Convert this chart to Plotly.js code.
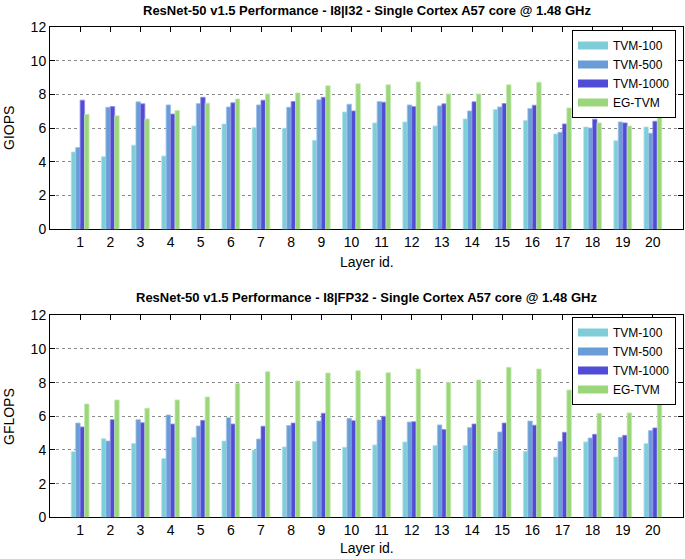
<!DOCTYPE html>
<html>
<head>
<meta charset="utf-8">
<script src="https://cdn.plot.ly/plotly-3.0.1.min.js"></script>
<style>html,body{margin:0;padding:0;background:#fff}#chart{width:685px;height:559px}</style>
</head>
<body>
<div id="chart"></div>
<script>
const layers = [1,2,3,4,5,6,7,8,9,10,11,12,13,14,15,16,17,18,19,20];
const seriesNames = ["TVM-100","TVM-500","TVM-1000","EG-TVM"];
const seriesColors = ["#7ecdd9","#699dd8","#504cd6","#9bd67a"];
const seriesBorders = ["#b4e3ea","#9fc2e8","#8f8ce6","#c3e8ae"];

// Top: I8|I32 (GIOPS)
const giops_tvm100  = [4.59,4.31,4.99,4.35,6.13,6.25,6.03,5.99,5.28,6.96,6.31,6.37,6.13,6.55,7.10,6.45,5.66,6.07,5.26,6.07];
const giops_tvm500  = [4.85,7.24,7.56,7.38,7.46,7.26,7.38,7.24,7.68,7.42,7.58,7.38,7.32,7.02,7.26,7.16,5.76,6.01,6.37,5.70];
const giops_tvm1000 = [7.66,7.28,7.44,6.84,7.83,7.50,7.66,7.58,7.83,7.02,7.54,7.28,7.44,7.56,7.46,7.36,6.25,6.53,6.31,6.41];
const giops_egtvm   = [6.82,6.73,6.55,7.04,7.48,7.73,8.03,8.09,8.51,8.63,8.57,8.74,8.03,8.03,8.57,8.72,7.20,6.31,6.13,7.38];

// Bottom: I8|FP32 (GFLOPS)
const gflops_tvm100  = [3.90,4.67,4.38,3.49,4.75,4.53,4.00,4.18,4.51,4.16,4.30,4.48,4.26,4.26,3.96,3.92,3.58,4.48,3.58,4.38];
const gflops_tvm500  = [5.60,4.53,5.80,6.08,5.43,5.92,4.65,5.45,5.72,5.88,5.78,5.66,5.49,5.33,5.07,5.72,4.50,4.71,4.75,5.15];
const gflops_tvm1000 = [5.37,5.80,5.62,5.54,5.76,5.54,5.41,5.60,6.18,5.74,6.00,5.68,5.21,5.54,5.60,5.47,5.05,4.93,4.87,5.31];
const gflops_egtvm   = [6.73,6.97,6.48,6.97,7.15,7.94,8.65,8.10,8.57,8.71,8.59,8.81,8.02,8.16,8.91,8.81,7.56,6.18,6.20,7.56];

const yTicks = [0,2,4,6,8,10,12];
const topTitle = "ResNet-50 v1.5 Performance - I8|I32 - Single Cortex A57 core @ 1.48 GHz";
const bottomTitle = "ResNet-50 v1.5 Performance - I8|FP32 - Single Cortex A57 core @ 1.48 GHz";
const xLabel = "Layer id.";
const topYLabel = "GIOPS";
const bottomYLabel = "GFLOPS";

const topData = [giops_tvm100, giops_tvm500, giops_tvm1000, giops_egtvm];
const bottomData = [gflops_tvm100, gflops_tvm500, gflops_tvm1000, gflops_egtvm];

const traces = [];
function addBars(dataSets, xa, ya, legendName) {
  dataSets.forEach((vals, i) => {
    traces.push({
      type: "bar", x: layers, y: vals, xaxis: xa, yaxis: ya,
      name: seriesNames[i], showlegend: false,
      marker: {color: seriesColors[i], line: {color: seriesBorders[i], width: 0.8}},
      hoverinfo: "x+y+name"
    });
  });
  // legend swatches
  seriesNames.forEach((n, i) => {
    traces.push({
      type: "scatter", mode: "lines", x: [null], y: [null], xaxis: xa, yaxis: ya,
      name: n, legend: legendName, showlegend: true,
      line: {color: seriesColors[i], width: 8}
    });
  });
}
addBars(topData, "x", "y", "legend");
addBars(bottomData, "x2", "y2", "legend2");

const FONT = "Liberation Sans, Arial, Helvetica, sans-serif";
function xAxis(anchor) {
  return {
    anchor: anchor, domain: [0, 1], range: [0, 21],
    tickmode: "array", tickvals: layers, ticktext: layers.map(String),
    ticks: "inside", ticklen: 5, tickcolor: "#000", mirror: "allticks",
    showline: true, linecolor: "#000", linewidth: 1,
    showgrid: false, zeroline: false,
    tickfont: {family: FONT, size: 14, color: "#000"},
    layer: "below traces", fixedrange: true
  };
}
function yAxis(anchor, domain) {
  return {
    anchor: anchor, domain: domain, range: [0, 12],
    tickmode: "array", tickvals: yTicks,
    ticks: "inside", ticklen: 5, tickcolor: "#000", mirror: "allticks",
    showline: true, linecolor: "#000", linewidth: 1,
    showgrid: true, gridcolor: "#8a8a8a", griddash: "dot", gridwidth: 1,
    zeroline: false,
    tickfont: {family: FONT, size: 14, color: "#000"},
    layer: "below traces", fixedrange: true
  };
}

const H = 559;
const legendStyle = {
  xanchor: "right", yanchor: "top",
  bordercolor: "#000", borderwidth: 1, bgcolor: "#fff",
  font: {family: FONT, size: 12, color: "#000"},
  tracegroupgap: 0, itemwidth: 30
};
const layout = {
  width: 685, height: 559,
  margin: {l: 50, r: 2, t: 0, b: 0},
  paper_bgcolor: "#fff", plot_bgcolor: "#fff",
  barmode: "group", bargap: 0.41, bargroupgap: 0,
  font: {family: FONT, color: "#000"},
  xaxis: xAxis("y"),
  yaxis: yAxis("x", [1 - 229.3 / H, 1 - 27 / H]),
  xaxis2: xAxis("y2"),
  yaxis2: yAxis("x2", [1 - 517.3 / H, 1 - 315.3 / H]),
  legend: Object.assign({x: (676 - 50) / 633, y: 1 - 30 / H}, legendStyle),
  legend2: Object.assign({x: (676 - 50) / 633, y: 1 - 317 / H}, legendStyle),
  annotations: [
    {text: "<b>" + topTitle + "</b>", xref: "paper", yref: "paper", x: 0.5, y: 1 - 10 / H,
     xanchor: "center", yanchor: "middle", showarrow: false, font: {family: FONT, size: 13}},
    {text: "<b>" + bottomTitle + "</b>", xref: "paper", yref: "paper", x: 0.5, y: 1 - 297 / H,
     xanchor: "center", yanchor: "middle", showarrow: false, font: {family: FONT, size: 13}},
    {text: xLabel, xref: "paper", yref: "paper", x: 0.5, y: 1 - 262 / H,
     xanchor: "center", yanchor: "middle", showarrow: false, font: {family: FONT, size: 14}},
    {text: xLabel, xref: "paper", yref: "paper", x: 0.5, y: 1 - 548 / H,
     xanchor: "center", yanchor: "middle", showarrow: false, font: {family: FONT, size: 14}},
    {text: topYLabel, xref: "paper", yref: "paper", x: -50 / 633 + 9 / 633, y: 1 - 128 / H,
     xanchor: "center", yanchor: "middle", textangle: -90, showarrow: false, font: {family: FONT, size: 14}},
    {text: bottomYLabel, xref: "paper", yref: "paper", x: -50 / 633 + 9 / 633, y: 1 - 416 / H,
     xanchor: "center", yanchor: "middle", textangle: -90, showarrow: false, font: {family: FONT, size: 14}}
  ]
};

Plotly.newPlot("chart", traces, layout, {displayModeBar: false, staticPlot: true});
</script>
</body>
</html>
